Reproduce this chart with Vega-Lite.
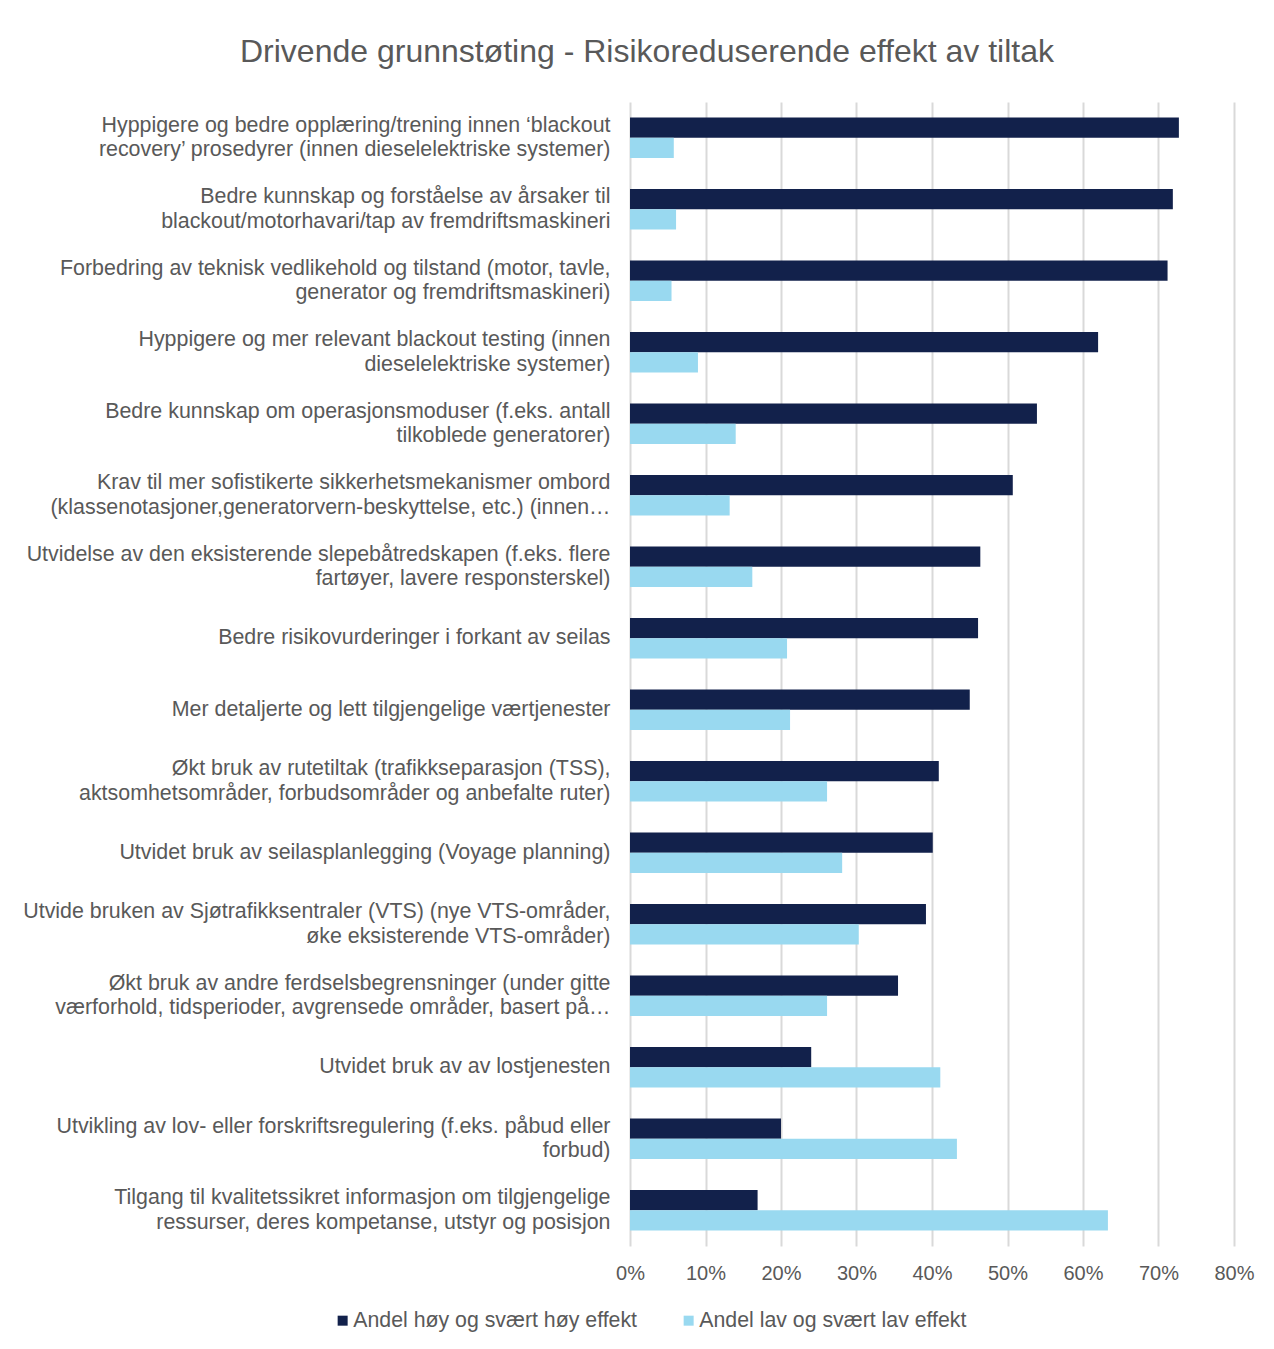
{
  "$schema": "https://vega.github.io/schema/vega-lite/v6.json",
  "autosize": {"type": "none"},
  "padding": {"left": 630, "top": 102, "right": 40, "bottom": 103},
  "width": 604,
  "height": 1144,
  "background": "white",
  "title": {
    "text": "Drivende grunnstøting - Risikoreduserende effekt av tiltak",
    "anchor": "middle",
    "frame": "group",
    "dx": -285,
    "offset": 8,
    "baseline": "alphabetic",
    "font": "Liberation Sans",
    "fontSize": 32,
    "fontWeight": "normal",
    "color": "#595959"
  },
  "data": {
    "values": [
      {"tiltak": "Hyppigere og bedre opplæring/trening innen ‘blackout|recovery’ prosedyrer (innen dieselelektriske systemer)", "Andel høy og svært høy effekt": 0.727, "Andel lav og svært lav effekt": 0.058},
      {"tiltak": "Bedre kunnskap og forståelse av årsaker til|blackout/motorhavari/tap av fremdriftsmaskineri", "Andel høy og svært høy effekt": 0.719, "Andel lav og svært lav effekt": 0.061},
      {"tiltak": "Forbedring av teknisk vedlikehold og tilstand (motor, tavle,|generator og fremdriftsmaskineri)", "Andel høy og svært høy effekt": 0.712, "Andel lav og svært lav effekt": 0.055},
      {"tiltak": "Hyppigere og mer relevant blackout testing (innen|dieselelektriske systemer)", "Andel høy og svært høy effekt": 0.620, "Andel lav og svært lav effekt": 0.090},
      {"tiltak": "Bedre kunnskap om operasjonsmoduser (f.eks. antall|tilkoblede generatorer)", "Andel høy og svært høy effekt": 0.539, "Andel lav og svært lav effekt": 0.140},
      {"tiltak": "Krav til mer sofistikerte sikkerhetsmekanismer ombord|(klassenotasjoner,generatorvern-beskyttelse, etc.) (innen…", "Andel høy og svært høy effekt": 0.507, "Andel lav og svært lav effekt": 0.132},
      {"tiltak": "Utvidelse av den eksisterende slepebåtredskapen (f.eks. flere|fartøyer, lavere responsterskel)", "Andel høy og svært høy effekt": 0.464, "Andel lav og svært lav effekt": 0.162},
      {"tiltak": "Bedre risikovurderinger i forkant av seilas", "Andel høy og svært høy effekt": 0.461, "Andel lav og svært lav effekt": 0.208},
      {"tiltak": "Mer detaljerte og lett tilgjengelige værtjenester", "Andel høy og svært høy effekt": 0.450, "Andel lav og svært lav effekt": 0.212},
      {"tiltak": "Økt bruk av rutetiltak (trafikkseparasjon (TSS),|aktsomhetsområder, forbudsområder og anbefalte ruter)", "Andel høy og svært høy effekt": 0.409, "Andel lav og svært lav effekt": 0.261},
      {"tiltak": "Utvidet bruk av seilasplanlegging (Voyage planning)", "Andel høy og svært høy effekt": 0.401, "Andel lav og svært lav effekt": 0.281},
      {"tiltak": "Utvide bruken av Sjøtrafikksentraler (VTS) (nye VTS-områder,|øke eksisterende VTS-områder)", "Andel høy og svært høy effekt": 0.392, "Andel lav og svært lav effekt": 0.303},
      {"tiltak": "Økt bruk av andre ferdselsbegrensninger (under gitte|værforhold, tidsperioder, avgrensede områder, basert på…", "Andel høy og svært høy effekt": 0.355, "Andel lav og svært lav effekt": 0.261},
      {"tiltak": "Utvidet bruk av av lostjenesten", "Andel høy og svært høy effekt": 0.240, "Andel lav og svært lav effekt": 0.411},
      {"tiltak": "Utvikling av lov- eller forskriftsregulering (f.eks. påbud eller|forbud)", "Andel høy og svært høy effekt": 0.200, "Andel lav og svært lav effekt": 0.433},
      {"tiltak": "Tilgang til kvalitetssikret informasjon om tilgjengelige|ressurser, deres kompetanse, utstyr og posisjon", "Andel høy og svært høy effekt": 0.169, "Andel lav og svært lav effekt": 0.633}
    ]
  },
  "transform": [
    {"fold": ["Andel høy og svært høy effekt", "Andel lav og svært lav effekt"], "as": ["serie", "andel"]}
  ],
  "mark": {"type": "bar"},
  "encoding": {
    "y": {
      "field": "tiltak",
      "type": "nominal",
      "sort": null,
      "scale": {"paddingInner": 0.435, "paddingOuter": 0.2175},
      "axis": {
        "title": null,
        "labelExpr": "split(datum.label, '|')",
        "labelFont": "Liberation Sans",
        "labelFontSize": 21.4,
        "labelLineHeight": 24.5,
        "labelColor": "#595959",
        "labelPadding": 20,
        "labelLimit": 700,
        "labelOffset": {"condition": {"test": "indexof(datum.value, '|') >= 0", "value": -12}, "value": 0},
        "ticks": false,
        "domain": false,
        "labelAlign": "right"
      }
    },
    "yOffset": {
      "field": "serie",
      "type": "nominal",
      "sort": ["Andel høy og svært høy effekt", "Andel lav og svært lav effekt"],
      "scale": {"paddingInner": 0, "paddingOuter": 0}
    },
    "x": {
      "field": "andel",
      "type": "quantitative",
      "scale": {"domain": [0, 0.8], "nice": false},
      "axis": {
        "title": null,
        "format": ".0%",
        "values": [0, 0.1, 0.2, 0.3, 0.4, 0.5, 0.6, 0.7, 0.8],
        "labelFont": "Liberation Sans",
        "labelFontSize": 20,
        "labelColor": "#595959",
        "labelPadding": 17,
        "ticks": false,
        "domain": false,
        "grid": true,
        "gridColor": "#d9d9d9",
        "gridWidth": 2,
        "labelFlush": false
      }
    },
    "color": {
      "field": "serie",
      "type": "nominal",
      "scale": {
        "domain": ["Andel høy og svært høy effekt", "Andel lav og svært lav effekt"],
        "range": ["#12214b", "#99d9f0"]
      },
      "legend": {
        "title": null,
        "orient": "none",
        "direction": "horizontal",
        "legendX": -298,
        "legendY": 1208,
        "symbolType": "square",
        "symbolSize": 100,
        "symbolStrokeWidth": 0,
        "labelFont": "Liberation Sans",
        "labelFontSize": 21.3,
        "labelColor": "#595959",
        "labelOffset": 0,
        "columnPadding": 41,
        "labelLimit": 400
      }
    }
  },
  "config": {
    "view": {"stroke": null}
  }
}
